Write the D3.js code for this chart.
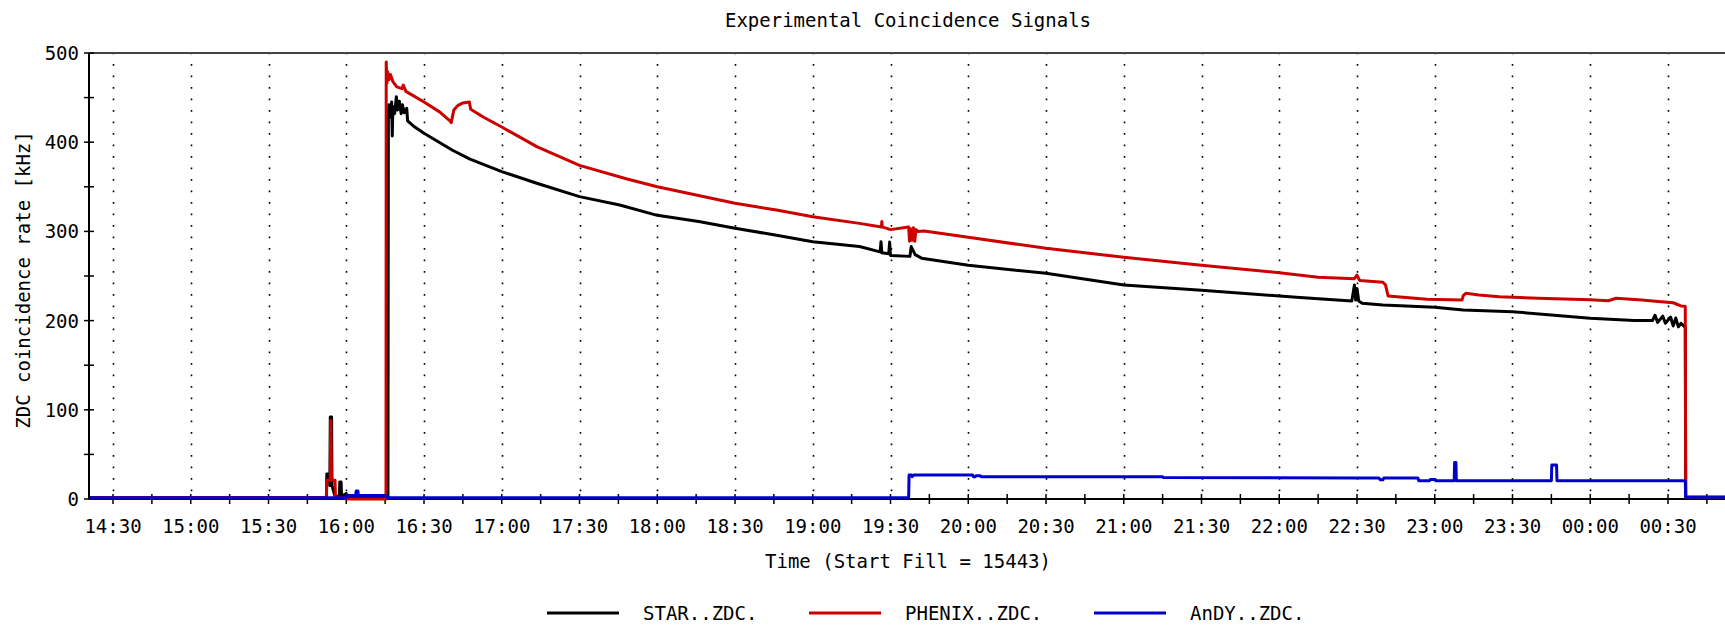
<!DOCTYPE html>
<html>
<head>
<meta charset="utf-8">
<script src="https://cdnjs.cloudflare.com/ajax/libs/d3/7.8.5/d3.min.js"></script>
<style>
  html, body { margin: 0; padding: 0; background: #fff; overflow: hidden; }
  svg { display: block; }
  text { font-family: "DejaVu Sans Mono", "Liberation Mono", monospace; font-size: 19px; fill: #000; }
</style>
</head>
<body>
<svg id="chart" width="1725" height="626"></svg>
<script>
// ---------------- data ----------------
const chartTitle = "Experimental Coincidence Signals";
const xTitle = "Time (Start Fill = 15443)";
const yTitle = "ZDC coincidence rate [kHz]";
const seriesNames = ["STAR..ZDC.", "PHENIX..ZDC.", "AnDY..ZDC."];
const seriesColors = ["#000000", "#cd0000", "#0000cd"];
const xDomain = ["14:20:44", "00:52:46"];
const yDomain = [0, 500];
const yMajorTicks = [0, 100, 200, 300, 400, 500];
const yMinorTicks = [50, 150, 250, 350, 450];

const starData = [
  ["14:21:00", 1.5], ["15:52:20", 1.5], ["15:52:30", 28], ["15:53:30", 28], ["15:53:40", 15],
  ["15:53:50", 92], ["15:54:20", 92], ["15:54:30", 15], ["15:55:40", 3], ["15:57:20", 3],
  ["15:57:30", 19], ["15:58:00", 19], ["15:58:10", 3], ["16:00:00", 6], ["16:00:30", 2],
  ["16:16:05", 2], ["16:16:15", 435], ["16:16:30", 442], ["16:17:00", 428], ["16:17:30", 445],
  ["16:17:45", 407], ["16:18:00", 440], ["16:18:40", 432], ["16:19:20", 451], ["16:19:50", 436],
  ["16:20:30", 446], ["16:21:10", 432], ["16:21:40", 442], ["16:22:20", 433], ["16:23:20", 438],
  ["16:23:40", 424], ["16:26:00", 418], ["16:30:00", 410], ["16:41:00", 391], ["16:47:45", 381],
  ["17:00:00", 367], ["17:13:30", 354], ["17:30:00", 339], ["17:45:30", 329.6], ["18:00:00", 318],
  ["18:16:00", 311], ["18:30:00", 303.5], ["18:45:30", 296], ["19:00:00", 288.5], ["19:18:00", 283],
  ["19:26:00", 277], ["19:26:20", 288.5], ["19:26:40", 276], ["19:29:20", 275], ["19:29:40", 288],
  ["19:30:00", 273], ["19:37:30", 272], ["19:38:00", 283], ["19:39:30", 274], ["19:42:00", 270],
  ["20:00:00", 262], ["20:30:00", 253], ["21:00:00", 240], ["21:30:00", 234], ["22:00:00", 227.6],
  ["22:08:00", 226], ["22:28:00", 222], ["22:29:00", 240], ["22:29:30", 223], ["22:30:00", 236],
  ["22:30:40", 222], ["22:32:00", 219.4], ["22:40:00", 217.5], ["23:00:00", 215], ["23:11:00", 212],
  ["23:30:00", 210], ["00:00:00", 202.6], ["00:17:00", 200], ["00:24:00", 200], ["00:25:00", 206],
  ["00:26:00", 198], ["00:28:00", 205], ["00:29:00", 197], ["00:31:00", 204], ["00:32:00", 194],
  ["00:33:00", 203], ["00:34:00", 193], ["00:35:00", 197], ["00:36:40", 192.5], ["00:36:50", 2],
  ["00:52:46", 2]
];

const phenixData = [
  ["14:21:00", 1.5], ["15:52:20", 1.5], ["15:52:30", 21], ["15:53:50", 21], ["15:54:00", 88],
  ["15:54:20", 21], ["15:55:40", 21], ["15:55:50", 1.5], ["16:00:00", 1.5], ["16:00:10", 0],
  ["16:15:20", 0], ["16:15:25", 490], ["16:15:40", 466], ["16:16:00", 479], ["16:16:30", 470],
  ["16:17:00", 476], ["16:18:00", 468], ["16:19:30", 462], ["16:21:30", 460], ["16:22:00", 464],
  ["16:23:00", 457], ["16:30:00", 445], ["16:36:00", 434], ["16:40:00", 424], ["16:40:30", 422],
  ["16:41:30", 436], ["16:43:00", 441], ["16:45:00", 444], ["16:47:30", 445], ["16:48:00", 437],
  ["16:53:00", 428], ["17:00:00", 417], ["17:13:30", 395], ["17:30:00", 374], ["17:48:00", 359],
  ["18:00:00", 350], ["18:30:00", 331.5], ["18:46:00", 324], ["19:00:00", 316.5], ["19:18:00", 309],
  ["19:26:30", 305], ["19:26:40", 311], ["19:26:50", 305], ["19:30:00", 302], ["19:37:00", 305],
  ["19:37:20", 289], ["19:37:50", 303], ["19:38:20", 290], ["19:38:50", 304], ["19:39:20", 289],
  ["19:39:50", 302], ["19:40:30", 300], ["19:43:00", 300.5], ["20:00:00", 293.4], ["20:30:00", 281],
  ["21:00:00", 271], ["21:30:00", 262], ["22:00:00", 253.7], ["22:15:00", 248.5], ["22:29:00", 247],
  ["22:30:00", 251], ["22:31:00", 245], ["22:40:00", 243], ["22:41:00", 240], ["22:42:00", 227.6],
  ["22:57:00", 224], ["23:10:30", 223], ["23:11:00", 228], ["23:12:00", 230.6], ["23:17:00", 228.7],
  ["23:25:00", 226.8], ["23:40:00", 225], ["00:00:00", 223.5], ["00:07:00", 222.3], ["00:10:00", 225],
  ["00:20:00", 223], ["00:24:00", 222], ["00:32:00", 220], ["00:35:00", 216.4], ["00:36:40", 216],
  ["00:36:50", 2], ["00:52:46", 2]
];

const andyData = [
  ["14:21:00", 1.5], ["16:00:00", 1.5], ["16:00:10", 4], ["16:03:40", 4], ["16:03:50", 9],
  ["16:04:30", 9], ["16:04:40", 4], ["16:15:30", 4], ["16:15:40", 1.5], ["19:37:00", 1.5],
  ["19:37:10", 27], ["19:38:00", 27], ["19:38:20", 25], ["19:39:00", 27], ["20:01:40", 27],
  ["20:02:00", 25], ["20:02:40", 25], ["20:03:00", 26], ["20:04:40", 26], ["20:05:00", 25],
  ["21:15:00", 25], ["21:15:20", 24], ["22:30:00", 23.5], ["22:38:30", 23.5], ["22:39:00", 21.5],
  ["22:40:00", 21.5], ["22:40:20", 23.5], ["22:53:30", 23.5], ["22:53:50", 20.5], ["22:58:00", 20.5],
  ["22:58:20", 22], ["23:00:00", 22], ["23:00:20", 20.5], ["23:07:30", 20.5], ["23:07:40", 41],
  ["23:08:10", 41], ["23:08:20", 20.5], ["23:45:00", 20.5], ["23:45:10", 38], ["23:47:00", 38],
  ["23:47:10", 20.5], ["00:36:40", 20.5], ["00:36:50", 2], ["00:52:46", 2]
];

// ---------------- layout ----------------
const W = 1725, H = 626;
const plot = { left: 89, right: 1727, top: 53, bottom: 499 };

const parseFull = d3.timeParse("%Y-%m-%d %H:%M:%S");
function toDate(s) {
  const h = +s.slice(0, 2);
  return parseFull((h < 12 ? "2011-01-02 " : "2011-01-01 ") + s);
}

const x = d3.scaleTime().domain(xDomain.map(toDate)).range([plot.left, plot.right]);
const y = d3.scaleLinear().domain(yDomain).range([plot.bottom, plot.top]);

const svg = d3.select("#chart");

// dotted vertical grid at each half hour
const halfHours = x.ticks(d3.timeMinute.every(30));
svg.append("g").selectAll("line").data(halfHours).join("line")
  .attr("x1", d => Math.round(x(d)) + 0.5).attr("x2", d => Math.round(x(d)) + 0.5)
  .attr("y1", plot.top).attr("y2", plot.bottom)
  .attr("stroke", "#000").attr("stroke-width", 1.6)
  .attr("stroke-dasharray", "1.8 9.7").attr("stroke-dashoffset", 0.5);

// top border
svg.append("line")
  .attr("x1", plot.left).attr("x2", plot.right)
  .attr("y1", plot.top).attr("y2", plot.top)
  .attr("stroke", "#444").attr("stroke-width", 2);

// x axis
const xAxisG = svg.append("g").attr("transform", `translate(0,${plot.bottom})`);
xAxisG.append("line").attr("x1", plot.left).attr("x2", plot.right)
  .attr("y1", 0).attr("y2", 0).attr("stroke", "#000").attr("stroke-width", 2);
xAxisG.selectAll("line.tick").data(x.ticks(d3.timeMinute.every(15))).join("line")
  .attr("class", "tick")
  .attr("x1", d => x(d)).attr("x2", d => x(d)).attr("y1", -5).attr("y2", 5)
  .attr("stroke", "#000").attr("stroke-width", 1.5);
const fmt = d3.timeFormat("%H:%M");
xAxisG.selectAll("text").data(halfHours).join("text")
  .attr("x", d => x(d)).attr("y", 34)
  .attr("text-anchor", "middle")
  .text(d => fmt(d));

// y axis
const yAxisG = svg.append("g").attr("transform", `translate(${plot.left},0)`);
yAxisG.append("line").attr("x1", 0).attr("x2", 0)
  .attr("y1", plot.top).attr("y2", plot.bottom).attr("stroke", "#000").attr("stroke-width", 2);
yAxisG.selectAll("line.tick").data(yMajorTicks.concat(yMinorTicks)).join("line")
  .attr("class", "tick")
  .attr("x1", -5).attr("x2", 5).attr("y1", d => y(d)).attr("y2", d => y(d))
  .attr("stroke", "#000").attr("stroke-width", 1.5);
yAxisG.selectAll("text").data(yMajorTicks).join("text")
  .attr("x", -10).attr("y", d => y(d) + 7)
  .attr("text-anchor", "end")
  .text(d => d);

// series lines
const line = d3.line().x(d => x(toDate(d[0]))).y(d => y(d[1]));
const allSeries = [starData, phenixData, andyData];
svg.append("g").selectAll("path").data(allSeries).join("path")
  .attr("d", d => line(d))
  .attr("fill", "none")
  .attr("stroke", (d, i) => seriesColors[i])
  .attr("stroke-width", 3)
  .attr("stroke-linejoin", "round");

// titles
svg.append("text").attr("x", 908).attr("y", 27).attr("text-anchor", "middle").text(chartTitle);
svg.append("text").attr("x", 908).attr("y", 568).attr("text-anchor", "middle").text(xTitle);
svg.append("text").attr("transform", "translate(30,280) rotate(-90)")
  .attr("text-anchor", "middle").text(yTitle);

// legend
const legendX = [547, 809, 1094];
const legend = svg.append("g").selectAll("g").data(seriesNames).join("g")
  .attr("transform", (d, i) => `translate(${legendX[i]},613)`);
legend.append("line").attr("x1", 0).attr("x2", 72).attr("y1", 0).attr("y2", 0)
  .attr("stroke", (d, i) => seriesColors[i]).attr("stroke-width", 3);
legend.append("text").attr("x", 96).attr("y", 7).text(d => d);
</script>
</body>
</html>
